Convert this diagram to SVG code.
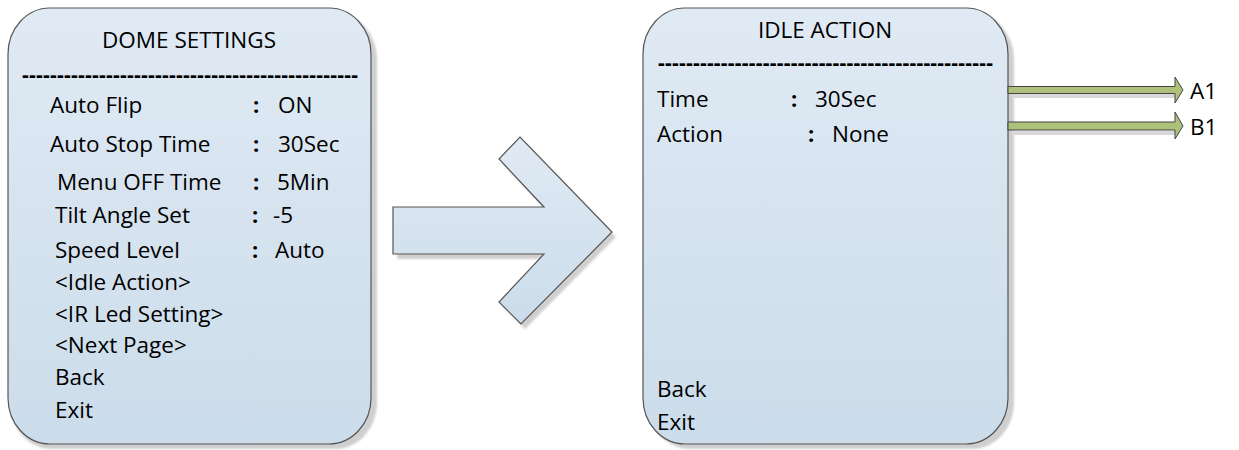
<svg xmlns="http://www.w3.org/2000/svg" width="1239" height="450" viewBox="0 0 1239 450">
<defs>
<linearGradient id="bg" x1="0" y1="0" x2="0" y2="1">
<stop offset="0" stop-color="#e0eaf4"/>
<stop offset="1" stop-color="#cbdcea"/>
</linearGradient>
<filter id="blur" x="-5%" y="-5%" width="110%" height="110%"><feGaussianBlur stdDeviation="1"/></filter>
</defs>
<style>
.box{fill:url(#bg);stroke:#555;stroke-width:1.2}
.shadow{fill:#cfcfcf;filter:url(#blur)}
.t{font-family:"Open Sans","Liberation Sans",sans-serif;font-size:22.5px;fill:#000}
.c{font-family:"Open Sans","Liberation Sans",sans-serif;font-size:22px;font-weight:bold;fill:#000}
.d{font-family:"Open Sans","Liberation Sans",sans-serif;font-size:21px;font-weight:bold;fill:#000}
.ga{fill:#adc17b;stroke:#444;stroke-width:1}
.gs{fill:#d8d8d8}
</style>

<g id="dome-settings">
<path class="shadow" d="M52,13 H335 A42,46 0 0 1 377,59 V403 A42,46 0 0 1 335,449 H52 A42,46 0 0 1 10,403 V59 A42,46 0 0 1 52,13 Z"/>
<path class="box" d="M50,8 H329 A42,46 0 0 1 371,54 V398 A42,46 0 0 1 329,444 H50 A42,46 0 0 1 8,398 V54 A42,46 0 0 1 50,8 Z"/>
<text class="t" x="189" y="48" text-anchor="middle">DOME SETTINGS</text>
<text class="d" x="22" y="82" textLength="336" lengthAdjust="spacing">------------------------------------------------</text>
<text class="t" x="50" y="113">Auto Flip</text>
<text class="c" x="253" y="113">:</text>
<text class="t" x="278" y="113">ON</text>
<text class="t" x="50" y="152">Auto Stop Time</text>
<text class="c" x="253" y="152">:</text>
<text class="t" x="278" y="152">30Sec</text>
<text class="t" x="57" y="190">Menu OFF Time</text>
<text class="c" x="253" y="190">:</text>
<text class="t" x="277" y="190">5Min</text>
<text class="t" x="55" y="223">Tilt Angle Set</text>
<text class="c" x="252" y="223">:</text>
<text class="t" x="273" y="223">-5</text>
<text class="t" x="55" y="258">Speed Level</text>
<text class="c" x="252" y="258">:</text>
<text class="t" x="275" y="258">Auto</text>
<text class="t" x="55" y="290">&lt;Idle Action&gt;</text>
<text class="t" x="55" y="322">&lt;IR Led Setting&gt;</text>
<text class="t" x="55" y="353">&lt;Next Page&gt;</text>
<text class="t" x="55" y="385">Back</text>
<text class="t" x="55" y="418">Exit</text>
</g>

<g id="big-arrow">
<path class="shadow" d="M397,212 H548 L503,164 L525,142 L616,237 L525,329 L503,307 L548,259 H397 Z"/>
<path class="box" d="M393,207 H544 L499,159 L520,137 L612,232 L521,324 L499,302 L544,254 H393 Z"/>
</g>

<g id="idle-action">
<path class="shadow" d="M690,13 H972 A42,46 0 0 1 1014,59 V403 A42,46 0 0 1 972,449 H690 A42,46 0 0 1 648,403 V59 A42,46 0 0 1 690,13 Z"/>
<path class="box" d="M685,8 H966 A42,46 0 0 1 1008,54 V398 A42,46 0 0 1 966,444 H685 A42,46 0 0 1 643,398 V54 A42,46 0 0 1 685,8 Z"/>
<text class="t" x="825" y="38" text-anchor="middle">IDLE ACTION</text>
<text class="d" x="658" y="70" textLength="335" lengthAdjust="spacing">------------------------------------------------</text>
<text class="t" x="657" y="107">Time</text>
<text class="c" x="791" y="107">:</text>
<text class="t" x="815" y="107">30Sec</text>
<text class="t" x="657" y="142">Action</text>
<text class="c" x="808" y="142">:</text>
<text class="t" x="832" y="142">None</text>
<text class="t" x="657" y="397">Back</text>
<text class="t" x="657" y="430">Exit</text>
</g>

<g id="connectors">
<path class="gs" d="M1012,94 H1179 V98 H1012 Z"/>
<path class="ga" d="M1008,86.5 H1175 V77 L1183,90 L1175,103 V93.5 H1008 Z"/>
<path class="gs" d="M1012,131 H1179 V135 H1012 Z"/>
<path class="ga" d="M1008,122 H1175 V112 L1183,126 L1175,139 V130 H1008 Z"/>
</g>

<g id="label-a1"><text class="t" x="1190" y="99">A1</text></g>
<g id="label-b1"><text class="t" x="1190" y="135">B1</text></g>
</svg>
